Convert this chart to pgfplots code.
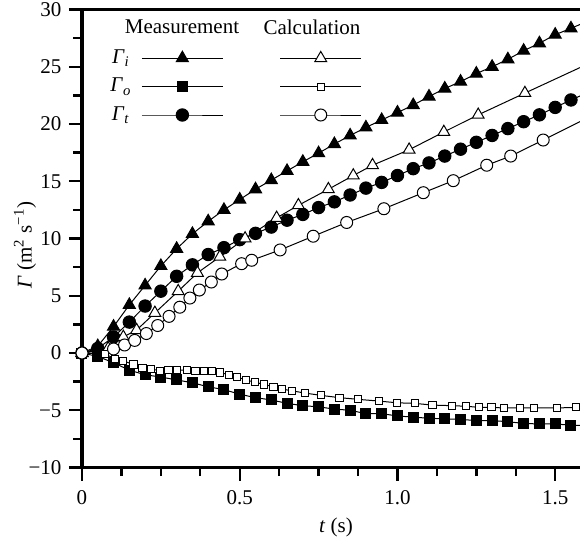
\documentclass[border=0pt]{standalone}
\usepackage{fontspec}
\setmainfont{Liberation Serif}
\usepackage{pgfplots}
\pgfplotsset{compat=1.18}

\newcommand{\G}[1]{\textit{Γ}\textsubscript{\textit{#1}}}

\begin{document}
\fontsize{10.5}{12.6}\selectfont
\begin{tikzpicture}
\useasboundingbox (0pt,0pt) rectangle (290pt,271pt);
\begin{axis}[
    at={(41pt,37.25pt)}, anchor=south west,
    scale only axis, width=250pt, height=229pt,
    xmin=0, xmax=1.585, ymin=-10, ymax=30,
    clip=false,
    axis line style={line width=1.6pt},
    tick style={line width=1.2pt, black},
    tick align=outside, tick pos=left,
    major tick length=6.6pt, minor tick length=4.3pt,
    xtick={0,0.5,1,1.5}, xticklabels={0,0.5,1.0,1.5},
    minor x tick num=3,
    ytick={-10,-5,...,30}, yticklabels={−10,−5,0,5,10,15,20,25,30},
    minor y tick num=1,
    xticklabel style={yshift=-1.2pt},
    xlabel={\textit{t} (s)},
    ylabel={\textit{Γ} (m\textsuperscript{2} s\textsuperscript{−1})},
    xlabel style={at={(axis description cs:0.508,-0.13)}, anchor=center},
    ylabel style={at={(axis description cs:-0.114,0.486)}, anchor=center},
    every axis plot/.append style={line width=0.5pt, black},
    legend plot pos=right,
    legend image code/.code={\draw[mark repeat=2,mark phase=2,#1] plot coordinates {(0pt,0pt) (20.25pt,0pt) (40.5pt,0pt)};},
    legend style={at={(axis description cs:0.056,0.913)}, anchor=north west,
        draw=none, fill=none, inner sep=0pt, legend columns=2, row sep=5.75pt,
        nodes={inner sep=0pt},
        /tikz/every odd column/.style={column sep=5pt},
        /tikz/every even column/.style={column sep=22.2pt}},
]
% measured Gamma_i
\addplot[mark=triangle*, mark size=3.5pt, mark options={fill=black}, forget plot] coordinates {
(0,0) (0.05,0.6) (0.10,2.3) (0.15,4.2) (0.20,5.9) (0.25,7.6) (0.30,9.1) (0.35,10.4)
(0.40,11.5) (0.45,12.5) (0.50,13.4) (0.55,14.3) (0.60,15.1) (0.65,15.9) (0.70,16.7)
(0.75,17.45) (0.80,18.25) (0.85,19.0) (0.90,19.7) (0.95,20.35) (1.00,21.0) (1.05,21.65)
(1.10,22.4) (1.15,23.1) (1.20,23.7) (1.25,24.4) (1.30,25.0) (1.35,25.65) (1.40,26.4)
(1.45,27.05) (1.50,27.8) (1.55,28.35) (1.60,28.95)
};
% measured Gamma_o
\addplot[mark=square*, mark size=2.5pt, mark options={fill=black}, forget plot] coordinates {
(0,0) (0.05,-0.3) (0.10,-0.85) (0.15,-1.5) (0.20,-1.9) (0.25,-2.1) (0.30,-2.35) (0.35,-2.6)
(0.40,-2.95) (0.45,-3.2) (0.50,-3.6) (0.55,-3.9) (0.60,-4.1) (0.65,-4.4) (0.70,-4.6)
(0.75,-4.7) (0.80,-4.9) (0.85,-5.0) (0.90,-5.3) (0.95,-5.3) (1.00,-5.5) (1.05,-5.6)
(1.10,-5.7) (1.15,-5.75) (1.20,-5.8) (1.25,-5.9) (1.30,-5.9) (1.35,-6.0) (1.40,-6.15)
(1.45,-6.2) (1.50,-6.2) (1.55,-6.3) (1.60,-6.35)
};
% measured Gamma_t
\addplot[mark=*, mark size=3.1pt, mark options={fill=black}, forget plot] coordinates {
(0,0) (0.05,0.4) (0.10,1.4) (0.15,2.7) (0.20,4.1) (0.25,5.4) (0.30,6.7) (0.35,7.7)
(0.40,8.6) (0.45,9.2) (0.50,9.9) (0.55,10.45) (0.60,11.0) (0.65,11.6) (0.70,12.1)
(0.75,12.7) (0.80,13.2) (0.85,13.8) (0.90,14.4) (0.95,14.9) (1.00,15.5) (1.05,16.1)
(1.10,16.6) (1.15,17.2) (1.20,17.8) (1.25,18.4) (1.30,19.0) (1.35,19.6) (1.40,20.2)
(1.45,20.8) (1.50,21.45) (1.55,22.1) (1.60,22.7)
};
% calculated Gamma_i
\addplot[mark=triangle*, mark size=3.4pt, mark options={fill=white}, forget plot] coordinates {
(0,0) (0.083,0.4) (0.131,1.4) (0.173,2.0) (0.231,3.5) (0.305,5.4) (0.366,7.0)
(0.437,8.4) (0.517,10.0) (0.617,11.8) (0.686,12.9) (0.781,14.3) (0.860,15.5)
(0.921,16.4) (1.037,17.75) (1.147,19.3) (1.256,20.8) (1.404,22.7) (1.60,25.2)
};
% calculated Gamma_o
\addplot[mark=square*, mark size=1.8pt, mark options={fill=white}, forget plot] coordinates {
(0,0) (0.073,-0.1) (0.105,-0.5) (0.131,-0.7) (0.163,-1.0) (0.192,-1.3) (0.219,-1.4)
(0.247,-1.55) (0.274,-1.5) (0.302,-1.5) (0.332,-1.5) (0.360,-1.55) (0.387,-1.6)
(0.413,-1.6) (0.437,-1.7) (0.466,-1.9) (0.492,-2.1) (0.519,-2.35) (0.548,-2.55)
(0.578,-2.75) (0.607,-2.95) (0.635,-3.15) (0.665,-3.3) (0.707,-3.5) (0.757,-3.7)
(0.816,-3.9) (0.876,-4.05) (0.942,-4.2) (0.999,-4.35) (1.055,-4.4) (1.111,-4.55)
(1.172,-4.6) (1.217,-4.65) (1.259,-4.75) (1.298,-4.75) (1.338,-4.8) (1.388,-4.8)
(1.433,-4.8) (1.505,-4.8) (1.566,-4.75)
};
% calculated Gamma_t
\addplot[mark=*, mark size=3pt, mark options={fill=white}, forget plot] coordinates {
(0,0) (0.10,0.35) (0.135,0.7) (0.167,1.1) (0.204,1.7) (0.24,2.4) (0.276,3.2) (0.31,4.0)
(0.342,4.8) (0.372,5.5) (0.41,6.2) (0.443,6.9) (0.506,7.8) (0.538,8.1) (0.628,9.0)
(0.733,10.2) (0.839,11.4) (0.957,12.6) (1.082,14.0) (1.177,15.05) (1.283,16.4)
(1.359,17.2) (1.462,18.6) (1.60,20.5)
};
% legend
\addlegendimage{mark=triangle*, mark size=3.5pt, mark options={fill=black}}
\addlegendentry{\G{i}}
\addlegendimage{mark=triangle*, mark size=3.4pt, mark options={fill=white}}
\addlegendentry{}
\addlegendimage{mark=square*, mark size=2.5pt, mark options={fill=black}}
\addlegendentry{\G{o}}
\addlegendimage{mark=square*, mark size=1.8pt, mark options={fill=white}}
\addlegendentry{}
\addlegendimage{mark=*, mark size=3.1pt, mark options={fill=black}}
\addlegendentry{\G{t}}
\addlegendimage{mark=*, mark size=3pt, mark options={fill=white}}
\addlegendentry{}
\node at (axis cs:0.317,28.47) {Measurement};
\node at (axis cs:0.729,28.47) {Calculation};
\end{axis}
\end{tikzpicture}
\end{document}
